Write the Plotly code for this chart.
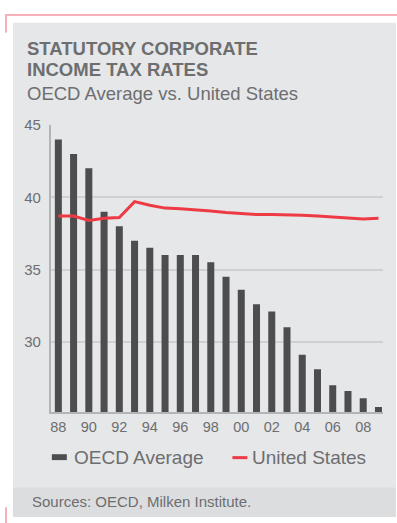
import plotly.graph_objects as go

W, H = 397, 523

years = list(range(1988, 2010))
oecd_avg = [44.0, 43.0, 42.0, 39.0, 38.0, 37.0, 36.5, 36.0, 36.0, 36.0, 35.5,
            34.5, 33.6, 32.6, 32.1, 31.0, 29.1, 28.1, 27.0, 26.6, 26.1, 25.5]
us_rate = [38.7, 38.7, 38.4, 38.55, 38.6, 39.7, 39.45, 39.25, 39.2, 39.15, 39.05,
           38.95, 38.85, 38.8, 38.8, 38.8, 38.75, 38.7, 38.65, 38.55, 38.5, 38.55]
x_tick_vals = [1988, 1990, 1992, 1994, 1996, 1998, 2000, 2002, 2004, 2006, 2008]
x_tick_text = ["88", "90", "92", "94", "96", "98", "00", "02", "04", "06", "08"]
y_tick_vals = [30, 35, 40, 45]

TEXT = "#6d6e70"
BAR = "#4d4d4f"
RED = "#ee3a44"
PINK = "#f7b0b7"
PANEL = "#e6e7e8"
STRIP = "#dcdddf"
GRID = "#cfd0d2"
AXIS = "#b3b4b6"
FONT = "Liberation Sans, Arial, sans-serif"


def px(x):
    return x / W


def py(y):
    return 1 - y / H


fig = go.Figure()
fig.add_trace(go.Bar(x=years, y=oecd_avg, name="OECD Average",
                     marker=dict(color=BAR, line=dict(width=0))))
fig.add_trace(go.Scatter(x=years, y=us_rate, name="United States", mode="lines",
                         line=dict(color=RED, width=3)))

shapes = [
    # panel
    dict(type="rect", xref="paper", yref="paper", x0=px(12), x1=px(396),
         y0=py(517), y1=py(14), fillcolor=PANEL, line=dict(width=0), layer="below"),
    dict(type="rect", xref="paper", yref="paper", x0=px(12), x1=px(396),
         y0=py(517), y1=py(487), fillcolor=STRIP, line=dict(width=0), layer="below"),
    # pink decorations
    dict(type="line", xref="paper", yref="paper", x0=px(4), x1=px(397),
         y0=py(6), y1=py(6), line=dict(color=PINK, width=2)),
    dict(type="line", xref="paper", yref="paper", x0=px(5), x1=px(5),
         y0=py(5), y1=py(24), line=dict(color=PINK, width=2)),
    dict(type="line", xref="paper", yref="paper", x0=px(5), x1=px(5),
         y0=py(507), y1=py(523), line=dict(color=PINK, width=2)),
    # legend markers
    dict(type="rect", xref="paper", yref="paper", x0=px(51), x1=px(66),
         y0=py(459), y1=py(453), fillcolor=BAR, line=dict(width=0)),
    dict(type="line", xref="paper", yref="paper", x0=px(232), x1=px(247),
         y0=py(456.5), y1=py(456.5), line=dict(color=RED, width=3)),
]

annotations = [
    dict(text="<b>STATUTORY CORPORATE</b>", x=px(24), y=py(40), font=dict(size=18.5)),
    dict(text="<b>INCOME TAX RATES</b>", x=px(24), y=py(62), font=dict(size=18.5)),
    dict(text="OECD Average vs. United States", x=px(24), y=py(86), font=dict(size=18.5)),
    dict(text="OECD Average", x=px(71), y=py(456.5), font=dict(size=19)),
    dict(text="United States", x=px(250), y=py(456.5), font=dict(size=19)),
    dict(text="Sources: OECD, Milken Institute.", x=px(29), y=py(501), font=dict(size=15)),
]
for a in annotations:
    a.update(xref="paper", yref="paper", xanchor="left", yanchor="middle",
             showarrow=False)
    a["font"].update(color=TEXT, family=FONT)

fig.update_layout(
    width=W, height=H,
    margin=dict(l=0, r=0, t=0, b=0),
    paper_bgcolor="white",
    plot_bgcolor="rgba(0,0,0,0)",
    showlegend=False,
    bargap=0.54,
    font=dict(family=FONT, color=TEXT),
    shapes=shapes,
    annotations=annotations,
    xaxis=dict(domain=[px(50), px(383)], range=[1987.51, 2009.3],
               tickvals=x_tick_vals, ticktext=x_tick_text,
               showgrid=False, zeroline=False,
               showline=True, linecolor=AXIS, linewidth=2,
               ticks="", ticklabelstandoff=1,
               tickfont=dict(size=14.5, color=TEXT, family=FONT)),
    yaxis=dict(domain=[py(410), py(118)], range=[25.15, 45],
               tickvals=y_tick_vals,
               showgrid=True, gridcolor=GRID, gridwidth=1.5, zeroline=False,
               showline=True, linecolor=AXIS, linewidth=2,
               ticks="", ticklabelstandoff=5,
               tickfont=dict(size=15, color=TEXT, family=FONT)),
)

fig.write_html("out.html")
